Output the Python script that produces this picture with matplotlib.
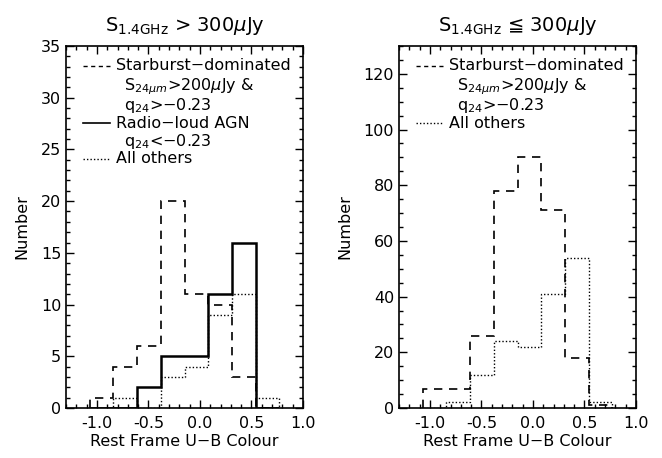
import matplotlib
matplotlib.use("Agg")
import matplotlib.pyplot as plt
from matplotlib.ticker import MultipleLocator, FormatStrFormatter

# bin edges in rest-frame U-B colour (same bins for both panels)
bin_edges = [-1.07, -0.84, -0.61, -0.38, -0.15, 0.08, 0.31, 0.54, 0.77]

# S_1.4GHz > 300 uJy
bright_starburst = [1, 4, 6, 20, 11, 10, 3, 0]
bright_agn = [0, 0, 2, 5, 5, 11, 16, 0]
bright_others = [0, 1, 0, 3, 4, 9, 11, 1]

# S_1.4GHz <= 300 uJy
faint_starburst = [7, 7, 26, 78, 90, 71, 18, 1]
faint_others = [0, 2, 12, 24, 22, 41, 54, 2]

titles = [r"S$_{\rm 1.4GHz}$ > 300$\mu$Jy", r"S$_{\rm 1.4GHz}$ ≦ 300$\mu$Jy"]
xlabel = "Rest Frame U\u2212B Colour"
ylabel = "Number"

plt.rcParams["font.family"] = "DejaVu Sans"
plt.rcParams["mathtext.fontset"] = "dejavusans"
plt.rcParams["axes.linewidth"] = 1.2

fig = plt.figure(figsize=(6.62, 4.58), dpi=100)
ax1 = fig.add_axes([66 / 662, 1 - 408 / 458, 237 / 662, 362 / 458])
ax2 = fig.add_axes([399 / 662, 1 - 408 / 458, 237 / 662, 362 / 458])

ax1.stairs(bright_starburst, bin_edges, color="black", linestyle=(0, (5, 4)), lw=1.2)
ax1.stairs(bright_others, bin_edges, color="black", linestyle=(0, (1, 1.5)), lw=1.0)
ax1.stairs(bright_agn, bin_edges, color="black", linestyle="-", lw=1.8)

ax2.stairs(faint_starburst, bin_edges, color="black", linestyle=(0, (5, 4)), lw=1.2)
ax2.stairs(faint_others, bin_edges, color="black", linestyle=(0, (1, 1.5)), lw=1.0)

ax1.set_ylim(0, 35)
ax2.set_ylim(0, 130)
ax1.yaxis.set_major_locator(MultipleLocator(5))
ax1.yaxis.set_minor_locator(MultipleLocator(1))
ax2.yaxis.set_major_locator(MultipleLocator(20))
ax2.yaxis.set_minor_locator(MultipleLocator(5))

for ax, title in zip([ax1, ax2], titles):
    ax.set_xlim(-1.3, 1.0)
    ax.xaxis.set_major_locator(MultipleLocator(0.5))
    ax.xaxis.set_minor_locator(MultipleLocator(0.1))
    ax.xaxis.set_major_formatter(FormatStrFormatter("%.1f"))
    ax.tick_params(which="both", direction="in", top=True, right=True,
                   labelsize=11.5, width=1.0)
    ax.tick_params(which="major", length=6)
    ax.tick_params(which="minor", length=3)
    ax.tick_params(axis="x", pad=6)
    ax.set_xlabel(xlabel, fontsize=11.5, labelpad=2)
    ax.set_ylabel(ylabel, fontsize=11.5, labelpad=8)
    ax.set_title(title, fontsize=14, pad=11)

# legend drawn by hand (IDL-style)
def key(ax, y, style, lw, text):
    ax.plot([0.07, 0.185], [y, y], transform=ax.transAxes, color="black",
            linestyle=style, lw=lw, clip_on=False)
    ax.text(0.21, y, text, transform=ax.transAxes, fontsize=11.5, va="center")

def sub(ax, y, text):
    ax.text(0.245, y, text, transform=ax.transAxes, fontsize=11.5, va="center")

key(ax1, 0.945, (0, (3, 2.5)), 1.0, "Starburst\u2212dominated")
sub(ax1, 0.888, r"S$_{24\mu m}$>200$\mu$Jy &")
sub(ax1, 0.836, r"q$_{24}$>$-$0.23")
key(ax1, 0.786, "-", 1.2, "Radio\u2212loud AGN")
sub(ax1, 0.735, r"q$_{24}$<$-$0.23")
key(ax1, 0.688, (0, (1, 1.5)), 1.0, "All others")

key(ax2, 0.945, (0, (3, 2.5)), 1.0, "Starburst\u2212dominated")
sub(ax2, 0.888, r"S$_{24\mu m}$>200$\mu$Jy &")
sub(ax2, 0.836, r"q$_{24}$>$-$0.23")
key(ax2, 0.786, (0, (1, 1.5)), 1.0, "All others")

fig.savefig("out.png", dpi=100)
